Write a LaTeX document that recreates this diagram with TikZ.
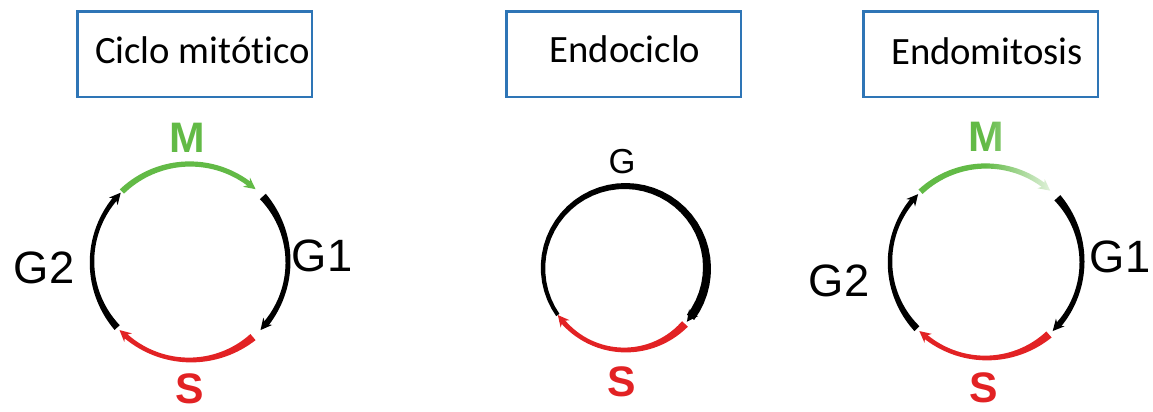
\documentclass[tikz,border=0pt]{standalone}
\usepackage{fontspec}
\setmainfont{Carlito}[Ligatures={NoCommon}]
\newfontfamily\arialf{Liberation Sans}
\usetikzlibrary{arrows.meta,calc,fadings}
\definecolor{boxblue}{RGB}{46,117,182}
\definecolor{phgreen}{RGB}{98,186,70}
\definecolor{phred}{RGB}{226,34,36}
\tikzfading[name=fadeR, left color=transparent!100, right color=transparent!12]
% tapered arc: #1 centre, #2 radius, #3 start angle, #4 end angle, #5 start width, #6 middle width, #7 end width, #8 colour
\newcommand{\tarc}[8]{%
  \fill[#8, shift={(#1)}]
    plot[domain=0:1, samples=41] ({(#3)+((#4)-(#3))*\x}:{(#2)+0.5*((#6)+((#5)-(#6))*(1-\x)^2+((#7)-(#6))*\x^2)})
    -- plot[domain=1:0, samples=41] ({(#3)+((#4)-(#3))*\x}:{(#2)-0.5*((#6)+((#5)-(#6))*(1-\x)^2+((#7)-(#6))*\x^2)})
    -- cycle;}
% arrow head at the end of a clockwise arc: #1 centre, #2 radius, #3 end angle, #4 colour
\newcommand{\tarrow}[4]{%
  \draw[#4, line width=1.2pt, -{Stealth[length=8.5pt,width=8.5pt]}]
    ($(#1)+({(#3)+5}:#2)$) -- ($(#1)+({(#3)-4}:#2)$);}
\begin{document}
\begin{tikzpicture}[x=0.75pt,y=0.75pt,
  box/.style={draw=boxblue, line width=2pt, minimum width=176pt, minimum height=64pt, inner sep=0pt},
  boxtext/.style={font=\fontsize{29}{34}\selectfont, inner sep=0pt, anchor=base},
  phase/.style={font=\arialf\fontsize{34}{40}\selectfont, inner sep=0pt},
  bphase/.style={font=\arialf\bfseries\fontsize{32}{38}\selectfont, inner sep=0pt}]
\useasboundingbox (0,0) rectangle (1153,411);

% boxes
\node[box] (b1) at (194.5,356.5) {};
\node[box] (b2) at (623.5,356.5) {};
\node[box] (b3) at (980.5,356.5) {};
\node[boxtext] (t1) at (202.5,347) {Ciclo mitótico};
\node[boxtext] (t2) at (625,348) {Endociclo};
\node[boxtext] (t3) at (987,346) {Endomitosis};

% centres
\coordinate (c1) at (190,149);
\coordinate (c2) at (625,143);
\coordinate (c3) at (986,149);

% ---- cycle 1: mitotic
\tarc{c1}{98}{134}{52}{6}{5}{5}{phgreen}
\tarrow{c1}{98}{52}{phgreen}
\tarc{c1}{98}{42}{-40}{8}{3}{6}{black}
\tarrow{c1}{98}{-40}{black}
\tarc{c1}{98}{-50}{-132}{8}{3}{5}{phred}
\tarrow{c1}{98}{-132}{phred}
\tarc{c1}{98}{222}{139}{7}{3}{5}{black}
\tarrow{c1}{98}{139}{black}
\node[bphase, text=phgreen] (m1) at (187,273.5) {M};
\node[phase] (g11) at (322,155) {G1};
\node[phase] (g21) at (44,143) {G2};
\node[bphase, text=phred] (s1) at (190,22) {S};

% ---- cycle 2: endocycle
\tarc{c2}{82}{215}{-37}{4}{5.5}{9}{black}
\tarrow{c2}{82}{-37}{black}
\tarc{c2}{82}{-43}{-141}{8}{3}{5}{phred}
\tarrow{c2}{82}{-141}{phred}
\node[phase, font=\arialf\fontsize{26}{30}\selectfont] (g2) at (622,249) {G};
\node[bphase, text=phred] (s2) at (622,29) {S};

% ---- cycle 3: endomitosis
\tarc{c3}{96}{133}{52}{6}{5}{5}{phgreen}
\tarrow{c3}{96}{52}{phgreen}
\node[bphase, text=phgreen] (m3) at (986,274) {M};
\fill[white, path fading=fadeR] (985,213) rectangle (1056,297);
\tarc{c3}{96}{42}{-42}{8}{3}{6}{black}
\tarrow{c3}{96}{-42}{black}
\tarc{c3}{96}{-49}{-130}{8}{3}{5}{phred}
\tarrow{c3}{96}{-130}{phred}
\tarc{c3}{96}{224}{139}{7}{3}{5}{black}
\tarrow{c3}{96}{139}{black}
\node[phase] (g23) at (839,130) {G2};
\node[phase] (g13) at (1120,154) {G1};
\node[bphase, text=phred] (s3) at (984,23) {S};
\end{tikzpicture}
\end{document}
